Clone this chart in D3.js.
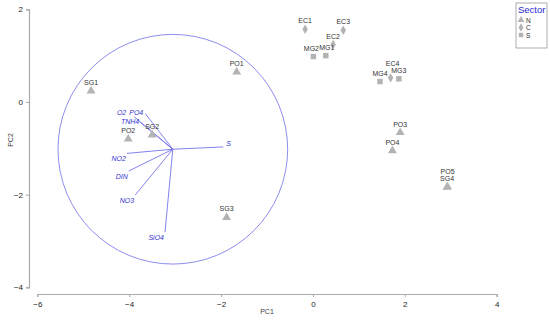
<!DOCTYPE html>
<html>
<head>
<meta charset="utf-8">
<script src="https://cdn.jsdelivr.net/npm/d3@7"></script>
<style>
body { margin: 0; background: #fff; }
svg { font-family: Arial, "Liberation Sans", sans-serif; }
</style>
</head>
<body>
<div id="chart"></div>
<script>
// sample scores (PC1, PC2)
var sites   = ["SG1","PO2","SG2","PO1","SG3","EC1","EC3","EC2","MG2","MG1","MG4","EC4","MG3","PO3","PO4","PO5","SG4"];
var sectors = ["N","N","N","N","N","C","C","C","S","S","S","C","S","N","N","N","N"];
var pc1     = [-4.83,-4.02,-3.50,-1.66,-1.88,-0.17,0.66,0.44,0.01,0.28,1.46,1.69,1.87,1.90,1.73,2.93,2.92];
var pc2     = [0.24,-0.80,-0.71,0.65,-2.49,1.57,1.55,1.24,0.98,1.00,0.44,0.52,0.50,-0.66,-1.05,-1.83,-1.84];

// variable vectors, relative to circle centre
var vars   = ["S","PO4","O2","TNH4","NO2","DIN","NO3","SiO4"];
var vecX   = [1.10,-0.60,-0.84,-0.71,-1.00,-0.96,-0.82,-0.17];
var vecY   = [0.05,0.77,0.70,0.58,-0.09,-0.47,-0.99,-1.79];
var circleCentre = [-3.05, -1.02];
var circleRadius = 2.5;

var xTicks = [-6,-4,-2,0,2,4];
var yTicks = [-4,-2,0,2];
var legendItems = ["N","C","S"];

var width = 550, height = 320;
var svg = d3.select("#chart").append("svg")
  .attr("width", width)
  .attr("height", height);

var x = d3.scaleLinear().domain([-6, 4]).range([37.3, 496.7]);
var y = d3.scaleLinear().domain([-4, 2]).range([287.3, 9.3]);

// axes
var xAxis = svg.append("g")
  .attr("transform", "translate(0,294)")
  .call(d3.axisBottom(x).tickValues(xTicks).tickSize(3).tickFormat(d => d < 0 ? "\u2212" + Math.abs(d) : d));
var yAxis = svg.append("g")
  .attr("transform", "translate(29,0)")
  .call(d3.axisLeft(y).tickValues(yTicks).tickSize(3).tickFormat(d => d < 0 ? "\u2212" + Math.abs(d) : d));
[xAxis, yAxis].forEach(function(a){
  a.select(".domain").attr("stroke", "#aaa").attr("stroke-width", 1.2);
  a.selectAll(".tick line").attr("stroke", "#aaa");
  a.selectAll(".tick text").attr("fill", "#222").style("font-size", "8px");
});
xAxis.selectAll(".tick text").attr("dy", "0.9em");

svg.append("text").attr("x", 267).attr("y", 314)
  .attr("text-anchor", "middle").style("font-size", "7px").attr("fill", "#444").text("PC1");
svg.append("text").attr("transform", "translate(13,140) rotate(-90)")
  .attr("text-anchor", "middle").style("font-size", "7px").attr("fill", "#444").text("PC2");

// correlation circle
var cx = x(circleCentre[0]), cy = y(circleCentre[1]);
svg.append("circle")
  .attr("cx", cx).attr("cy", cy)
  .attr("r", x(circleRadius) - x(0))
  .attr("fill", "none").attr("stroke", "#8080ec").attr("stroke-width", 0.9);

var vecData = vars.map((v, i) => ({name: v, dx: vecX[i], dy: vecY[i]}));
svg.selectAll(".vec").data(vecData).enter().append("line")
  .attr("class", "vec")
  .attr("x1", cx).attr("y1", cy)
  .attr("x2", d => x(circleCentre[0] + d.dx))
  .attr("y2", d => y(circleCentre[1] + d.dy))
  .attr("stroke", "#7474ea").attr("stroke-width", 0.9);

// small nudges so crowded labels sit as in the original
var vecNudge = {O2: [-7, -3], PO4: [-1, 0], TNH4: [0, 1]};
svg.selectAll(".veclab").data(vecData).enter().append("text")
  .attr("class", "veclab")
  .attr("x", d => (d.dx > 0 ? x(circleCentre[0] + d.dx) + 3 : x(circleCentre[0] + d.dx) - 1) + (vecNudge[d.name] ? vecNudge[d.name][0] : 0))
  .attr("y", d => (d.dx > 0 ? y(circleCentre[1] + d.dy) - 1 : (d.dy < 0 ? y(circleCentre[1] + d.dy) + 8 : y(circleCentre[1] + d.dy) + 1)) + (vecNudge[d.name] ? vecNudge[d.name][1] : 0))
  .attr("text-anchor", d => d.dx > 0 ? "start" : "end")
  .style("font-size", "7px").style("font-style", "italic")
  .attr("fill", "#3434d0")
  .text(d => d.name);

// points
var shapes = {N: d3.symbolTriangle, C: d3.symbolDiamond, S: d3.symbolSquare};
var sizes = {N: 34, C: 26, S: 30};
var pts = sites.map((s, i) => ({name: s, sector: sectors[i], px: pc1[i], py: pc2[i]}));

svg.selectAll(".pt").data(pts).enter().append("path")
  .attr("class", "pt")
  .attr("transform", d => "translate(" + x(d.px) + "," + y(d.py) + ")")
  .attr("d", d => d3.symbol().type(shapes[d.sector]).size(sizes[d.sector])())
  .attr("fill", "#b3b3b3");

var labelShift = {PO5: [0, -7], EC4: [2, -6], MG2: [-2, 0], MG1: [1, 0]};
svg.selectAll(".ptlab").data(pts).enter().append("text")
  .attr("class", "ptlab")
  .attr("x", d => x(d.px) + (labelShift[d.name] ? labelShift[d.name][0] : 0))
  .attr("y", d => y(d.py) - 6 + (labelShift[d.name] ? labelShift[d.name][1] : 0))
  .attr("text-anchor", "middle")
  .style("font-size", "7px").attr("fill", "#333")
  .text(d => d.name);

// legend
var lg = svg.append("g").attr("transform", "translate(516,3)");
lg.append("rect").attr("width", 31).attr("height", 45)
  .attr("fill", "#fff").attr("stroke", "#999").attr("stroke-width", 0.8);
lg.append("text").attr("x", 2).attr("y", 10)
  .style("font-size", "9.5px").attr("fill", "#2a2ad0").text("Sector");
legendItems.forEach(function(k, i){
  var yy = 17 + i * 7.5;
  lg.append("path")
    .attr("transform", "translate(5," + yy + ")")
    .attr("d", d3.symbol().type(shapes[k]).size(20)())
    .attr("fill", "#b3b3b3");
  lg.append("text").attr("x", 10).attr("y", yy + 2.5)
    .style("font-size", "6.5px").attr("fill", "#333").text(k);
});
</script>
</body>
</html>
